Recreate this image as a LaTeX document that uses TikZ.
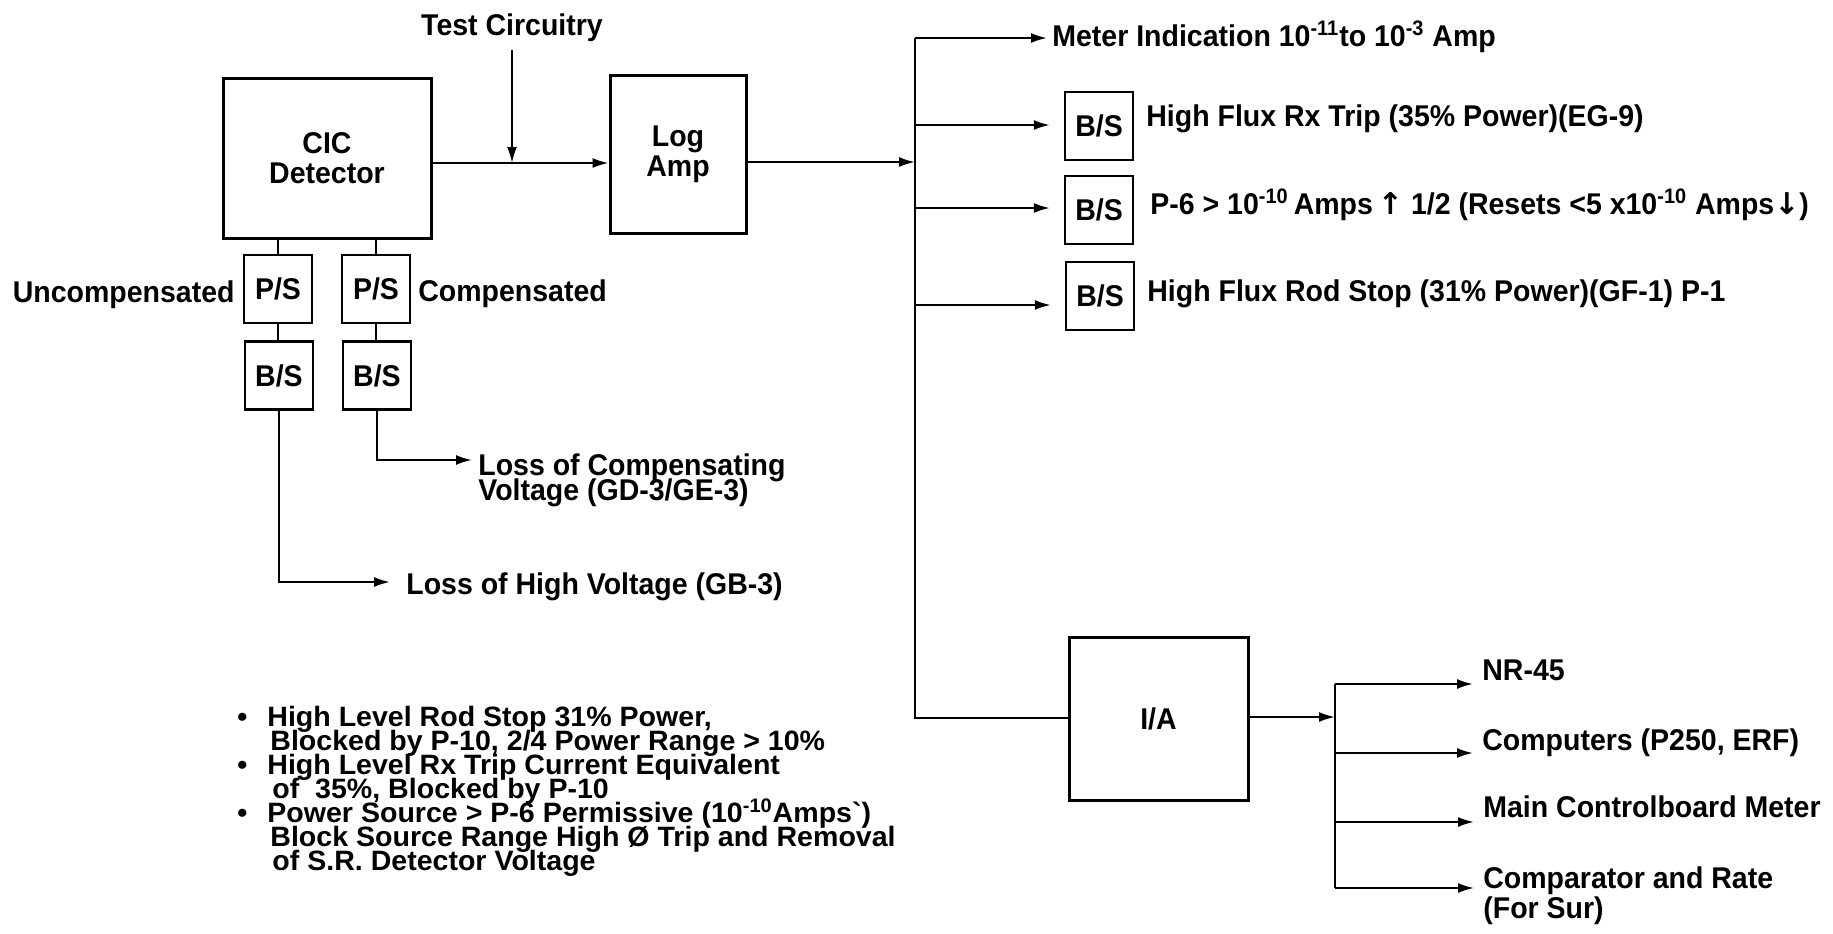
\documentclass[tikz,border=0pt]{standalone}
\usepackage{fontspec}
\setmainfont{Liberation Sans}[FakeStretch=0.95]
\newfontfamily\bulfam{Liberation Sans}[FakeStretch=1.02]
\newfontfamily\arrowfont{DejaVu Sans}
\usetikzlibrary{arrows.meta}
\newcommand\lblf{\fontsize{15}{12.5}\selectfont\bfseries}
\newcommand\boxf{\fontsize{15}{15.2}\selectfont\bfseries}
\newcommand\bulf{\bulfam\fontsize{14}{12}\selectfont\bfseries\lineskiplimit=-20pt\lineskip=0pt}
\begin{document}
\begin{tikzpicture}[x=0.5pt,y=-0.5pt,
  lbl/.style={font=\lblf, inner sep=0pt},
  bul/.style={font=\bulf, inner sep=0pt, align=left},
  bigbox/.style={draw, line width=1.5pt, inner sep=0pt, font=\boxf, align=center},
  smallbox/.style={draw, line width=1.2pt, inner sep=0pt, font=\lblf, minimum width=34pt, minimum height=34pt},
  conn/.style={line width=1pt},
  arr/.style={conn, -{Latex[length=8pt,width=5pt]}},
]
\fill[white] (0,0) rectangle (1833,933);
\useasboundingbox (0,0) rectangle (1833,933);

% ---- left part
\node[bigbox, minimum width=104pt, minimum height=80pt] (cic) at (327,158) {CIC\\Detector};
\node[bigbox, minimum width=68pt, minimum height=79pt] (logamp) at (678,154) {Log\\Amp};
\node[lbl, anchor=base] (test) at (512,35) {Test Circuitry};
\coordinate (tcs) at (512,50);
\coordinate (j1) at (512,163);
\draw[arr] (tcs) -- (j1);
\draw[arr] (cic.east |- j1) -- (logamp.west |- j1);

\node[smallbox] (psL) at (278,289) {P/S};
\node[smallbox] (psR) at (376,289) {P/S};
\node[smallbox] (bsL) at (279,375.5) {B/S};
\node[smallbox] (bsR) at (377,375.5) {B/S};
\draw[conn] (cic.south -| psL.north) -- (psL.north);
\draw[conn] (cic.south -| psR.north) -- (psR.north);
\draw[conn] (psL.south) -- (psL.south |- bsL.north);
\draw[conn] (psR.south) -- (psR.south |- bsR.north);

\node[lbl, anchor=base east] (unc) at (235,302) {Uncompensated};
\node[lbl, anchor=base west] (comp) at (418,301) {Compensated};

\node[lbl, anchor=base west] (lcv1) at (478,475) {Loss of Compensating};
\node[lbl, anchor=base west] (lcv2) at (478,500) {Voltage (GD-3/GE-3)};
\node[lbl, anchor=base west] (lhv) at (406,594) {Loss of High Voltage (GB-3)};
\draw[arr, shorten >=3pt] (bsR.south) -- (bsR.south |- 0,460) -- (lcv1.west |- 0,460);
\draw[arr, shorten >=8pt] (bsL.south) -- (bsL.south |- 0,582) -- (lhv.west |- 0,582);

% ---- notes
\node[bul, anchor=north west] (notes) at (237,706) {%
\makebox[15pt][l]{•}High Level Rod Stop 31\% Power,\\
\hspace*{16.5pt}Blocked by P-10, 2/4 Power Range > 10\%\\
\makebox[15pt][l]{•}High Level Rx Trip Current Equivalent\\
\hspace*{17.5pt}of\ \ 35\%, Blocked by P-10\\
\makebox[15pt][l]{•}Power Source > P-6 Permissive (10\textsuperscript{-10}Amps`)\\
\hspace*{16.5pt}Block Source Range High Ø Trip and Removal\\
\hspace*{17.5pt}of S.R. Detector Voltage};

% ---- main bus
\node[bigbox, minimum width=89.5pt, minimum height=81.5pt] (ia) at (1158.5,719) {I/A};
\coordinate (btop) at (915,38);
\coordinate (bbot) at (915,718);
\draw[conn] (btop) -- (bbot) -- (ia.west |- bbot);
\draw[arr] (logamp.east |- 0,162) -- (btop |- 0,162);
\node[lbl, anchor=base west] (meter) at (1052,46) {Meter Indication 10\textsuperscript{-11}to 10\textsuperscript{-3} Amp};
\draw[arr, shorten >=2.5pt] (btop) -- (btop -| meter.west);

\node[smallbox] (b1) at (1099,126) {B/S};
\node[smallbox] (b2) at (1099,210) {B/S};
\node[smallbox] (b3) at (1100,296) {B/S};
\draw[arr, shorten >=7pt] (btop |- 0,125) -- (b1.west |- 0,125);
\draw[arr, shorten >=7pt] (btop |- 0,208) -- (b2.west |- 0,208);
\draw[arr, shorten >=7pt] (btop |- 0,305) -- (b3.west |- 0,305);
\node[lbl, anchor=base west] (r1) at (1146,126) {High Flux Rx Trip (35\% Power)(EG-9)};
\node[lbl, anchor=base west] (r2) at (1150,214) {P-6 > 10\textsuperscript{-10}\,Amps\,{\arrowfont↑}\ 1/2 (Resets <5 x10\textsuperscript{-10} Amps{\arrowfont↓})};
\node[lbl, anchor=base west] (r3) at (1147,301) {High Flux Rod Stop (31\% Power)(GF-1) P-1};

% ---- I/A outputs
\coordinate (ctop) at (1335,684);
\coordinate (cbot) at (1335,888);
\draw[arr] (ia.east |- 0,717) -- (ctop |- 0,717);
\draw[conn] (ctop) -- (cbot);
\node[lbl, anchor=base west] (o1) at (1482,680) {NR-45};
\node[lbl, anchor=base west] (o2) at (1482,750) {Computers (P250, ERF)};
\node[lbl, anchor=base west] (o3) at (1483,817) {Main Controlboard Meter};
\node[lbl, anchor=base west] (o4) at (1483,888) {Comparator and Rate};
\node[lbl, anchor=base west] (o5) at (1483,918) {(For Sur)};
\draw[arr, shorten >=4.5pt] (ctop) -- (ctop -| o1.west);
\draw[arr, shorten >=4.5pt] (ctop |- 0,753) -- (o2.west |- 0,753);
\draw[arr, shorten >=4.5pt] (ctop |- 0,822) -- (o3.west |- 0,822);
\draw[arr, shorten >=4.5pt] (cbot) -- (cbot -| o4.west);
\end{tikzpicture}
\end{document}
